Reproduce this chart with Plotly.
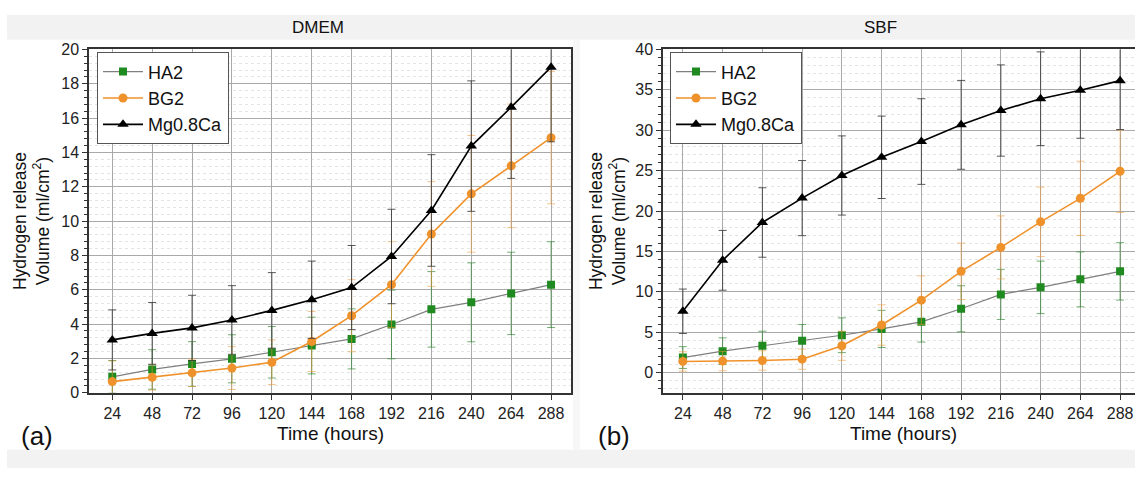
import plotly.graph_objects as go

hours = [24, 48, 72, 96, 120, 144, 168, 192, 216, 240, 264, 288]
tick_labels = [str(h) for h in hours]

# DMEM
dmem_ha2 = [0.93, 1.36, 1.68, 1.98, 2.36, 2.75, 3.14, 3.98, 4.86, 5.27, 5.79, 6.30]
dmem_ha2_err = [0.95, 1.15, 1.3, 1.4, 1.5, 1.65, 1.75, 2.0, 2.2, 2.3, 2.4, 2.5]
dmem_bg2 = [0.65, 0.90, 1.16, 1.44, 1.78, 2.99, 4.49, 6.30, 9.25, 11.59, 13.22, 14.86]
dmem_bg2_err = [1.2, 0.75, 0.8, 1.25, 1.3, 1.75, 2.1, 2.5, 3.05, 3.4, 3.6, 3.85]
dmem_mg = [3.08, 3.46, 3.78, 4.24, 4.80, 5.42, 6.13, 7.94, 10.62, 14.37, 16.64, 18.97]
dmem_mg_err = [1.75, 1.8, 1.9, 2.0, 2.2, 2.25, 2.45, 2.75, 3.25, 3.8, 4.15, 4.35]

# SBF
sbf_ha2 = [1.86, 2.65, 3.32, 3.95, 4.62, 5.41, 6.28, 7.90, 9.68, 10.55, 11.54, 12.53]
sbf_ha2_err = [1.35, 1.65, 1.8, 2.0, 2.15, 2.3, 2.5, 2.85, 3.1, 3.25, 3.4, 3.55]
sbf_bg2 = [1.38, 1.42, 1.50, 1.66, 3.32, 5.89, 8.97, 12.53, 15.50, 18.66, 21.57, 24.92]
sbf_bg2_err = [1.2, 1.2, 1.2, 1.25, 1.8, 2.5, 3.0, 3.5, 3.9, 4.3, 4.6, 5.1]
sbf_mg = [7.59, 13.90, 18.58, 21.60, 24.40, 26.65, 28.60, 30.67, 32.44, 33.90, 34.96, 36.14]
sbf_mg_err = [2.75, 3.7, 4.3, 4.65, 4.9, 5.1, 5.3, 5.5, 5.65, 5.8, 5.95, 6.05]

series_names = ["HA2", "BG2", "Mg0.8Ca"]

W, H = 1135, 477
FONT = "Liberation Sans, Arial, sans-serif"

def px_x(p):
    return p / W

def px_y(p):
    return 1 - p / H

styles = {
    "HA2": dict(line=dict(color="#7f7f7f", width=1.2),
                marker=dict(symbol="square", size=8, color="#1f8a1f"),
                err="rgba(40,130,40,0.65)"),
    "BG2": dict(line=dict(color="#f0922b", width=1.6),
                marker=dict(symbol="circle", size=9, color="#f0922b"),
                err="rgba(240,150,50,0.55)"),
    "Mg0.8Ca": dict(line=dict(color="#000000", width=1.6),
                    marker=dict(symbol="triangle-up", size=10, color="#000000"),
                    err="rgba(60,60,60,0.85)"),
}

fig = go.Figure()

panels = [
    ("x", "y", "legend", [dmem_ha2, dmem_bg2, dmem_mg], [dmem_ha2_err, dmem_bg2_err, dmem_mg_err]),
    ("x2", "y2", "legend2", [sbf_ha2, sbf_bg2, sbf_mg], [sbf_ha2_err, sbf_bg2_err, sbf_mg_err]),
]

for xa, ya, lg, vals, errs in panels:
    for name, v, e in zip(series_names, vals, errs):
        st = styles[name]
        fig.add_trace(go.Scatter(
            x=hours, y=v, name=name, mode="lines+markers",
            line=st["line"], marker=st["marker"],
            error_y=dict(type="data", array=e, visible=True, color=st["err"],
                         thickness=1, width=4),
            xaxis=xa, yaxis=ya, legend=lg, cliponaxis=True,
        ))

# background bands
gray = "#f2f2f2"
shapes = [
    dict(type="rect", xref="paper", yref="paper", x0=px_x(7), x1=1, y0=px_y(33), y1=px_y(7),
         fillcolor=gray, line=dict(width=0), layer="below"),
    dict(type="rect", xref="paper", yref="paper", x0=px_x(7), x1=1, y0=0, y1=px_y(458),
         fillcolor=gray, line=dict(width=0), layer="below"),
    dict(type="rect", xref="paper", yref="paper", x0=px_x(573), x1=px_x(580), y0=px_y(458), y1=px_y(33),
         fillcolor="#f7f7f7", line=dict(width=0), layer="below"),
]

ydom = [px_y(399), px_y(43)]

common_x = dict(
    tickmode="array", tickvals=hours, ticktext=tick_labels,
    showgrid=True, gridcolor="#a9a9a9", gridwidth=1,
    showline=True, linecolor="#333333", linewidth=1.5,
    ticks="outside", ticklen=5, tickcolor="#333333",
    tickfont=dict(family=FONT, size=16, color="#222222"),
    zeroline=False,
)
common_y = dict(
    showgrid=True, gridcolor="#a9a9a9", gridwidth=1,
    showline=True, linecolor="#333333", linewidth=1.5,
    ticks="outside", ticklen=5, tickcolor="#333333",
    tickfont=dict(family=FONT, size=16, color="#222222"),
    zeroline=False,
)

legend_common = dict(
    xanchor="left", yanchor="top",
    bgcolor="white", bordercolor="#555555", borderwidth=1,
    font=dict(family=FONT, size=18, color="#111111"),
    tracegroupgap=0, itemsizing="trace", itemwidth=40,
)

fig.update_layout(
    width=W, height=H,
    margin=dict(l=0, r=0, t=0, b=0),
    paper_bgcolor="white", plot_bgcolor="white",
    font=dict(family=FONT, color="#222222"),
    shapes=shapes,
    xaxis=dict(domain=[px_x(89), px_x(571)], range=[10, 300], anchor="y", mirror=True, **common_x),
    yaxis=dict(domain=ydom, range=[0, 20], dtick=2, anchor="x", mirror=True,
               minor=dict(dtick=0.4, ticks="outside", ticklen=3, tickcolor="#333333",
                          showgrid=True, gridcolor="#e4e4e4", griddash="dot"),
               **common_y),
    xaxis2=dict(domain=[px_x(663), 1.0], range=[12, 297], anchor="y2", mirror=True, **common_x),
    yaxis2=dict(domain=ydom, range=[-2.5, 40], dtick=5, anchor="x2", mirror=False,
                minor=dict(dtick=1, ticks="outside", ticklen=3, tickcolor="#333333",
                           showgrid=True, gridcolor="#e4e4e4", griddash="dot"),
                **common_y),
    legend=dict(x=px_x(97), y=px_y(46), **legend_common),
    legend2=dict(x=px_x(670), y=px_y(46), **legend_common),
)

ann = []
def add_text(text, x, y, size, angle=0):
    ann.append(dict(text=text, x=px_x(x), y=px_y(y), xref="paper", yref="paper",
                    showarrow=False, textangle=angle, xanchor="center", yanchor="middle",
                    font=dict(family=FONT, size=size, color="#111111")))

add_text("DMEM", 318, 20, 17)
add_text("SBF", 880, 20, 17)
add_text("Time (hours)", 330, 441, 19)
add_text("Time (hours)", 903, 441, 19)
add_text("(a)", 37, 444, 26)
add_text("(b)", 614, 444, 26)
ylab = "Hydrogen release<br>Volume (ml/cm<sup>2</sup>)"
add_text(ylab, 31, 221, 17.5, -90)
add_text(ylab, 607, 221, 17.5, -90)
fig.update_layout(annotations=ann)

post = (
    "document.documentElement.style.margin='0';"
    "document.documentElement.style.padding='0';"
    "document.documentElement.style.overflow='hidden';"
    "document.body.style.margin='0';"
    "document.body.style.padding='0';"
    "document.body.style.overflow='hidden';"
    "document.body.style.height='477px';"
    "var gd=document.getElementsByClassName('plotly-graph-div')[0];"
    "gd.style.lineHeight='0';gd.style.display='block';"
    "if(gd.parentNode){gd.parentNode.style.lineHeight='0';gd.parentNode.style.height='477px';gd.parentNode.style.overflow='hidden';}"
)

fig.write_html(
    "out.html",
    config={"displayModeBar": False},
    post_script=post,
)
